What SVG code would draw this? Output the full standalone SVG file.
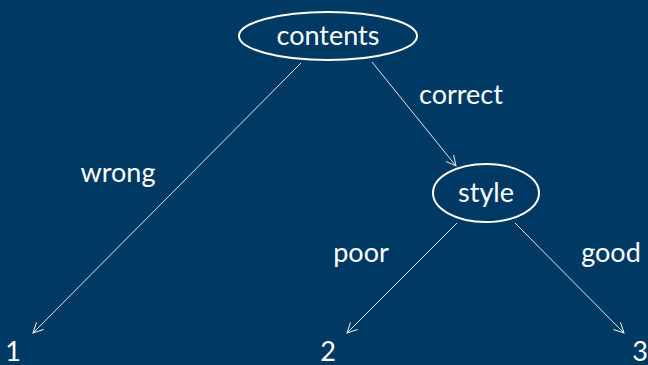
<svg xmlns="http://www.w3.org/2000/svg" width="648" height="365" viewBox="0 0 648 365">
  <defs>
    <marker id="arrow" viewBox="0 0 12 12" refX="11" refY="6" markerWidth="12" markerHeight="12" markerUnits="userSpaceOnUse" orient="auto">
      <path d="M1,1 L11,6 L1,11" fill="none" stroke="#e8eef4" stroke-width="1"/>
    </marker>
  </defs>
  <style>
    .node ellipse { fill: none; stroke: #ffffff; stroke-width: 2; }
    text { font-family: "Lato", "Open Sans", sans-serif; fill: #ffffff; font-size: 27px; }
    .edge { stroke: #dfe7ef; stroke-width: 1; fill: none; marker-end: url(#arrow); }
    .mid { text-anchor: middle; }
  </style>
  <rect width="648" height="365" fill="#003963"/>

  <g id="connectors">
    <line class="edge" x1="301" y1="63" x2="33" y2="333"/>
    <line class="edge" x1="372" y1="62" x2="456" y2="166"/>
    <line class="edge" x1="457" y1="223" x2="347" y2="333"/>
    <line class="edge" x1="515" y1="223" x2="624" y2="333"/>
    <text x="118" y="182" class="mid">wrong</text>
    <text x="461" y="104" class="mid">correct</text>
    <text x="361" y="262" class="mid">poor</text>
    <text x="611" y="262" class="mid">good</text>
  </g>

  <g id="node-contents" class="node">
    <ellipse cx="328" cy="36" rx="89" ry="24"/>
    <text x="328" y="45" class="mid">contents</text>
  </g>
  <g id="node-style" class="node">
    <ellipse cx="486" cy="193" rx="53" ry="29"/>
    <text x="486" y="202" class="mid">style</text>
  </g>
  <g id="leaf-1">
    <text x="13" y="361" class="mid">1</text>
  </g>
  <g id="leaf-2">
    <text x="328" y="361" class="mid">2</text>
  </g>
  <g id="leaf-3">
    <text x="640" y="361" class="mid">3</text>
  </g>
</svg>
